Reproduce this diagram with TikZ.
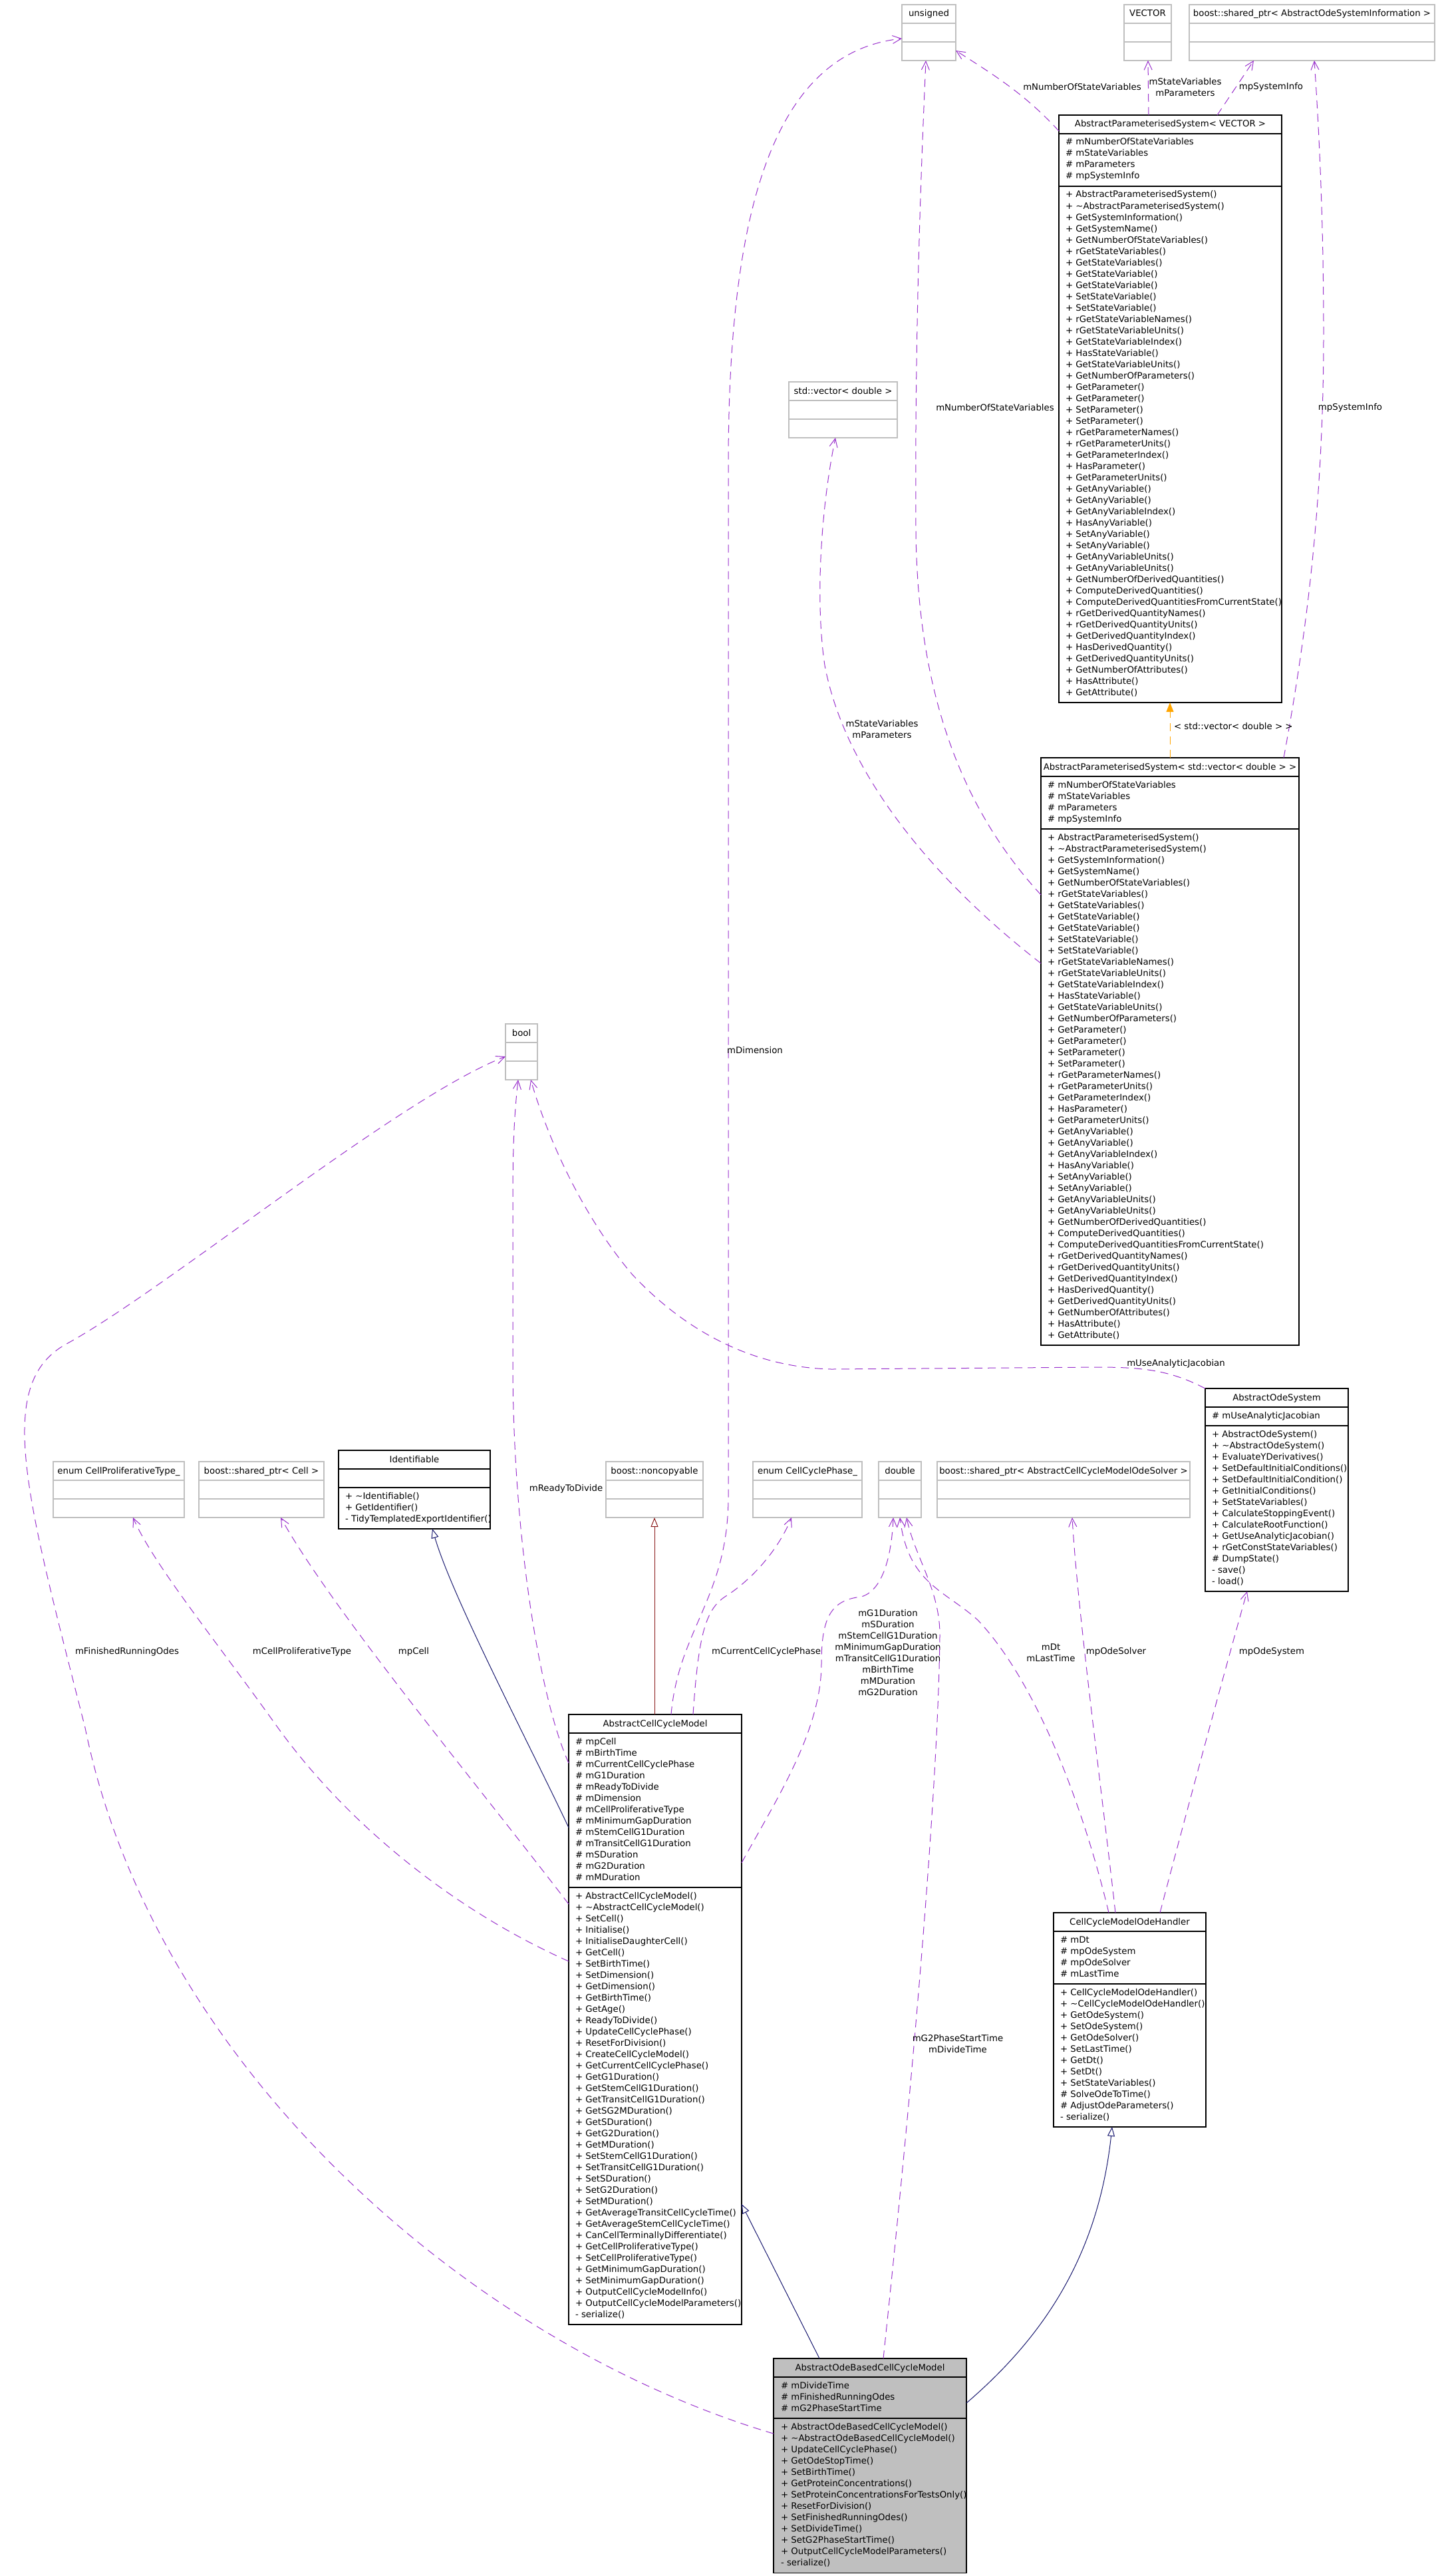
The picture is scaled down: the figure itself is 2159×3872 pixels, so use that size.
\documentclass[tikz,border=0pt]{standalone}
\usepackage{fontspec}
\setmainfont{DejaVu Sans}
\usetikzlibrary{arrows.meta}
\definecolor{edgepurple}{HTML}{9A32CD}
\definecolor{navyedge}{HTML}{191970}
\definecolor{redge}{HTML}{8B1A1A}
\definecolor{boxgray}{HTML}{BFBFBF}
\definecolor{tmplorange}{HTML}{FFA500}
\tikzset{
  every node/.style={font=\fontsize{13.3}{17}\selectfont, inner sep=0pt, outer sep=0pt},
  classbox/.style={draw=black, line width=1.1pt, rectangle},
  classboxsep/.style={draw=black, line width=1.1pt},
  graybox/.style={draw=boxgray, line width=1.1pt, rectangle},
  grayboxsep/.style={draw=boxgray, line width=1.1pt},
  focusbox/.style={draw=black, fill=boxgray, line width=1.1pt, rectangle},
  focusboxsep/.style={draw=black, line width=1.1pt},
  usage/.style={draw=edgepurple, line width=1pt, dash pattern=on 12pt off 8pt, -{Straight Barb[length=13pt,width=12pt]}},
  inherit/.style={draw=navyedge, line width=1pt, -{Triangle[length=14pt,width=11pt,fill=white]}},
  privinherit/.style={draw=redge, line width=1pt, -{Triangle[length=14pt,width=11pt,fill=white]}},
  tmpl/.style={draw=tmplorange, line width=1pt, dash pattern=on 12pt off 8pt, -{Triangle[length=14pt,width=11pt]}},
  elabel/.style={align=center, text=black},
}
\newcommand\umlbox[8]{%
  \pgfmathsetmacro\hA{(#5==0) ? 28 : 17*#5+11}%
  \pgfmathsetmacro\hM{(#6==0) ? 28 : 17*#6+11}%
  \pgfmathsetmacro\hT{28+\hA+\hM}%
  \node[#7, minimum width=#4pt, minimum height=\hT pt, anchor=north west] (#1) at (#2,#3) {};
  \draw[#7sep] (#2,#3+28) -- ++(#4,0);
  \draw[#7sep] (#2,#3+28+\hA) -- ++(#4,0);
  \node[anchor=base] (#1-title) at (#2+#4/2,#3+18) {#8};
}
\newcommand\umllines[4]{%
  \foreach \t [count=\i] in #4 {\node[anchor=base west] (#1-\i) at (#2,#3+17*\i) {\t};}
}
\newcommand\xApsAttr{\# mNumberOfStateVariables,\# mStateVariables,\# mParameters,\# mpSystemInfo}
\newcommand\xApsMeth{+ AbstractParameterisedSystem(),+ \textasciitilde{}AbstractParameterisedSystem(),+ GetSystemInformation(),+ GetSystemName(),+ GetNumberOfStateVariables(),+ rGetStateVariables(),+ GetStateVariables(),+ GetStateVariable(),+ GetStateVariable(),+ SetStateVariable(),+ SetStateVariable(),+ rGetStateVariableNames(),+ rGetStateVariableUnits(),+ GetStateVariableIndex(),+ HasStateVariable(),+ GetStateVariableUnits(),+ GetNumberOfParameters(),+ GetParameter(),+ GetParameter(),+ SetParameter(),+ SetParameter(),+ rGetParameterNames(),+ rGetParameterUnits(),+ GetParameterIndex(),+ HasParameter(),+ GetParameterUnits(),+ GetAnyVariable(),+ GetAnyVariable(),+ GetAnyVariableIndex(),+ HasAnyVariable(),+ SetAnyVariable(),+ SetAnyVariable(),+ GetAnyVariableUnits(),+ GetAnyVariableUnits(),+ GetNumberOfDerivedQuantities(),+ ComputeDerivedQuantities(),+ ComputeDerivedQuantitiesFromCurrentState(),+ rGetDerivedQuantityNames(),+ rGetDerivedQuantityUnits(),+ GetDerivedQuantityIndex(),+ HasDerivedQuantity(),+ GetDerivedQuantityUnits(),+ GetNumberOfAttributes(),+ HasAttribute(),+ GetAttribute()}
\newcommand\xAosAttr{\# mUseAnalyticJacobian}
\newcommand\xAosMeth{+ AbstractOdeSystem(),+ \textasciitilde{}AbstractOdeSystem(),+ EvaluateYDerivatives(),+ SetDefaultInitialConditions(),+ SetDefaultInitialCondition(),+ GetInitialConditions(),+ SetStateVariables(),+ CalculateStoppingEvent(),+ CalculateRootFunction(),+ GetUseAnalyticJacobian(),+ rGetConstStateVariables(),\# DumpState(),- save(),- load()}
\newcommand\xIdentMeth{+ \textasciitilde{}Identifiable(),+ GetIdentifier(),- TidyTemplatedExportIdentifier()}
\newcommand\xAccmAttr{\# mpCell,\# mBirthTime,\# mCurrentCellCyclePhase,\# mG1Duration,\# mReadyToDivide,\# mDimension,\# mCellProliferativeType,\# mMinimumGapDuration,\# mStemCellG1Duration,\# mTransitCellG1Duration,\# mSDuration,\# mG2Duration,\# mMDuration}
\newcommand\xAccmMeth{+ AbstractCellCycleModel(),+ \textasciitilde{}AbstractCellCycleModel(),+ SetCell(),+ Initialise(),+ InitialiseDaughterCell(),+ GetCell(),+ SetBirthTime(),+ SetDimension(),+ GetDimension(),+ GetBirthTime(),+ GetAge(),+ ReadyToDivide(),+ UpdateCellCyclePhase(),+ ResetForDivision(),+ CreateCellCycleModel(),+ GetCurrentCellCyclePhase(),+ GetG1Duration(),+ GetStemCellG1Duration(),+ GetTransitCellG1Duration(),+ GetSG2MDuration(),+ GetSDuration(),+ GetG2Duration(),+ GetMDuration(),+ SetStemCellG1Duration(),+ SetTransitCellG1Duration(),+ SetSDuration(),+ SetG2Duration(),+ SetMDuration(),+ GetAverageTransitCellCycleTime(),+ GetAverageStemCellCycleTime(),+ CanCellTerminallyDifferentiate(),+ GetCellProliferativeType(),+ SetCellProliferativeType(),+ GetMinimumGapDuration(),+ SetMinimumGapDuration(),+ OutputCellCycleModelInfo(),+ OutputCellCycleModelParameters(),- serialize()}
\newcommand\xHandAttr{\# mDt,\# mpOdeSystem,\# mpOdeSolver,\# mLastTime}
\newcommand\xHandMeth{+ CellCycleModelOdeHandler(),+ \textasciitilde{}CellCycleModelOdeHandler(),+ GetOdeSystem(),+ SetOdeSystem(),+ GetOdeSolver(),+ SetLastTime(),+ GetDt(),+ SetDt(),+ SetStateVariables(),\# SolveOdeToTime(),\# AdjustOdeParameters(),- serialize()}
\newcommand\xAodbAttr{\# mDivideTime,\# mFinishedRunningOdes,\# mG2PhaseStartTime}
\newcommand\xAodbMeth{+ AbstractOdeBasedCellCycleModel(),+ \textasciitilde{}AbstractOdeBasedCellCycleModel(),+ UpdateCellCyclePhase(),+ GetOdeStopTime(),+ SetBirthTime(),+ GetProteinConcentrations(),+ SetProteinConcentrationsForTestsOnly(),+ ResetForDivision(),+ SetFinishedRunningOdes(),+ SetDivideTime(),+ SetG2PhaseStartTime(),+ OutputCellCycleModelParameters(),- serialize()}
\begin{document}
\begin{tikzpicture}[x=1pt,y=-1pt]
\useasboundingbox (0,0) rectangle (2159,3872);
\fill[white] (0,0) rectangle (2159,3872);
% ---------- boxes ----------
\umlbox{uns}{1356}{7}{81}{0}{0}{graybox}{unsigned}
\umlbox{vec}{1690}{7}{71}{0}{0}{graybox}{VECTOR}
\umlbox{aodsi}{1788}{7}{369}{0}{0}{graybox}{boost::shared\_ptr< AbstractOdeSystemInformation >}
\umlbox{apsV}{1592}{173}{335}{4}{45}{classbox}{AbstractParameterisedSystem< VECTOR >}
\umllines{apsV-a}{1602}{201}{\xApsAttr}
\umllines{apsV-m}{1602}{280}{\xApsMeth}
\umlbox{vecd}{1186}{574}{163}{0}{0}{graybox}{std::vector< double >}
\umlbox{apsD}{1565}{1139}{388}{4}{45}{classbox}{AbstractParameterisedSystem< std::vector< double > >}
\umllines{apsD-a}{1575}{1167}{\xApsAttr}
\umllines{apsD-m}{1575}{1246}{\xApsMeth}
\umlbox{boolbox}{760}{1539}{48}{0}{0}{graybox}{bool}
\umlbox{aos}{1812}{2087}{215}{1}{14}{classbox}{AbstractOdeSystem}
\umllines{aos-a}{1822}{2115}{\xAosAttr}
\umllines{aos-m}{1822}{2143}{\xAosMeth}
\umlbox{cpt}{80}{2197}{197}{0}{0}{graybox}{enum CellProliferativeType\_}
\umlbox{spcell}{299}{2197}{188}{0}{0}{graybox}{boost::shared\_ptr< Cell >}
\umlbox{ident}{509}{2180}{228}{0}{3}{classbox}{Identifiable}
\umllines{ident-m}{519}{2236}{\xIdentMeth}
\umlbox{noncopy}{911}{2197}{146}{0}{0}{graybox}{boost::noncopyable}
\umlbox{ccp}{1132}{2197}{164}{0}{0}{graybox}{enum CellCyclePhase\_}
\umlbox{dbl}{1321}{2197}{64}{0}{0}{graybox}{double}
\umlbox{solver}{1409}{2197}{380}{0}{0}{graybox}{boost::shared\_ptr< AbstractCellCycleModelOdeSolver >}
\umlbox{accm}{855}{2577}{260}{13}{38}{classbox}{AbstractCellCycleModel}
\umllines{accm-a}{865}{2605}{\xAccmAttr}
\umllines{accm-m}{865}{2837}{\xAccmMeth}
\umlbox{handler}{1584}{2875}{229}{4}{12}{classbox}{CellCycleModelOdeHandler}
\umllines{handler-a}{1594}{2903}{\xHandAttr}
\umllines{handler-m}{1594}{2982}{\xHandMeth}
\umlbox{aodb}{1163}{3545}{290}{3}{13}{focusbox}{AbstractOdeBasedCellCycleModel}
\umllines{aodb-a}{1174}{3573}{\xAodbAttr}
\umllines{aodb-m}{1174}{3635}{\xAodbMeth}
% ---------- connectors ----------
\draw[usage] ([xshift=154pt]accm.north west) .. controls (1020,2450) and (1095,2400) .. (1095,2250) -- (1095,700) .. controls (1095,350) and (1150,80) .. ([yshift=-51pt]uns.north west);
\node[elabel] (lbl-dim) at (1135,1579) {mDimension};
\draw[usage] ([yshift=-206pt]apsD.north west) .. controls (1450,1220) and (1380,1050) .. (1377,800) .. controls (1375,500) and (1385,250) .. ([xshift=36pt]uns.south west);
\node[elabel] (lbl-nsv2) at (1496,613) {mNumberOfStateVariables};
\draw[usage] ([yshift=-24pt]apsV.north west) .. controls (1540,140) and (1490,110) .. ([yshift=-69pt]uns.north east);
\node[elabel] (lbl-nsv1) at (1627,131) {mNumberOfStateVariables};
\draw[usage] ([xshift=135pt]apsV.north west) -- ([xshift=36pt]vec.south west);
\node[elabel] (lbl-svp1) at (1782,131) {mStateVariables\\mParameters};
\draw[usage] ([xshift=238pt]apsV.north west) -- ([xshift=97pt]aodsi.south west);
\node[elabel] (lbl-si1) at (1911,131) {mpSystemInfo};
\draw[usage] ([xshift=365pt]apsD.north west) .. controls (1965,950) and (1990,750) .. (1990,500) .. controls (1990,300) and (1980,150) .. ([xshift=188pt]aodsi.south west);
\node[elabel] (lbl-si2) at (2030,613) {mpSystemInfo};
\draw[tmpl] ([xshift=194pt]apsD.north west) -- ([xshift=167pt]apsV.south west);
\node[elabel, anchor=west] (lbl-tmpl) at (1765,1092) {< std::vector< double > >};
\draw[usage] ([yshift=-309pt]apsD.north west) .. controls (1400,1320) and (1270,1160) .. (1240,1000) .. controls (1225,900) and (1235,760) .. ([xshift=70pt]vecd.south west);
\node[elabel] (lbl-svp2) at (1326,1096) {mStateVariables\\mParameters};
\draw[usage] (aos.north west) .. controls (1760,2060) and (1720,2055) .. (1650,2055) -- (1250,2058) .. controls (1120,2055) and (1020,1990) .. (950,1915) .. controls (870,1820) and (820,1700) .. ([xshift=38pt]boolbox.south west);
\node[elabel] (lbl-uaj) at (1768,2050) {mUseAnalyticJacobian};
\draw[usage] ([yshift=-73pt]accm.north west) .. controls (810,2550) and (771,2300) .. (771,2050) -- (771,1800) .. controls (771,1700) and (775,1660) .. ([xshift=19pt]boolbox.south west);
\node[elabel] (lbl-rtd) at (851,2238) {mReadyToDivide};
\draw[usage] ([yshift=-371pt]accm.north west) .. controls (680,2870) and (520,2740) .. (415,2593) .. controls (320,2460) and (230,2350) .. ([xshift=120pt]cpt.south west);
\node[elabel] (lbl-cpt) at (454,2483) {mCellProliferativeType};
\draw[usage] ([yshift=-285pt]accm.north west) .. controls (700,2660) and (500,2420) .. ([xshift=123pt]spcell.south west);
\node[elabel] (lbl-cell) at (622,2483) {mpCell};
\draw[inherit] ([yshift=-170pt]accm.north west) .. controls (790,2610) and (680,2400) .. ([xshift=141pt]ident.south west);
\draw[privinherit] ([xshift=129pt]accm.north west) -- ([xshift=73pt]noncopy.south west);
\draw[usage] ([xshift=187pt]accm.north west) .. controls (1050,2460) and (1060,2420) .. (1090,2400) .. controls (1130,2375) and (1170,2330) .. ([xshift=58pt]ccp.south west);
\node[elabel] (lbl-ccp) at (1152,2483) {mCurrentCellCyclePhase};
\draw[usage] ([yshift=-223pt]accm.north east) .. controls (1170,2700) and (1235,2600) .. (1235,2500) .. controls (1235,2430) and (1250,2405) .. (1295,2400) .. controls (1330,2390) and (1341,2330) .. ([xshift=22pt]dbl.south west);
\node[elabel] (lbl-dur) at (1335,2484) {mG1Duration\\mSDuration\\mStemCellG1Duration\\mMinimumGapDuration\\mTransitCellG1Duration\\mBirthTime\\mMDuration\\mG2Duration};
\draw[usage] ([xshift=165pt]aodb.north west) .. controls (1370,3150) and (1410,2700) .. (1413,2460) .. controls (1414,2390) and (1375,2340) .. ([xshift=42pt]dbl.south west);
\node[elabel] (lbl-g2) at (1440,3072) {mG2PhaseStartTime\\mDivideTime};
\draw[usage] ([xshift=83pt]handler.north west) .. controls (1630,2720) and (1560,2530) .. (1470,2435) .. controls (1420,2390) and (1365,2380) .. ([xshift=32pt]dbl.south west);
\node[elabel] (lbl-dt) at (1580,2484) {mDt\\mLastTime};
\draw[usage] ([xshift=93pt]handler.north west) .. controls (1655,2680) and (1620,2420) .. ([xshift=203pt]solver.south west);
\node[elabel] (lbl-solver) at (1678,2483) {mpOdeSolver};
\draw[usage] ([xshift=160pt]handler.north west) .. controls (1790,2700) and (1850,2480) .. ([xshift=63pt]aos.south west);
\node[elabel] (lbl-system) at (1912,2483) {mpOdeSystem};
\draw[inherit] ([yshift=-67pt]aodb.north east) .. controls (1560,3520) and (1650,3400) .. ([xshift=88pt]handler.south west);
\draw[inherit] ([xshift=69pt]aodb.north west) -- ([yshift=-736pt]accm.north east);
\draw[usage] ([yshift=-113pt]aodb.north west) .. controls (700,3520) and (230,3100) .. (128,2597) .. controls (40,2250) and (-10,2080) .. (100,2020) .. controls (250,1938) and (600,1650) .. ([yshift=-49pt]boolbox.north west);
\node[elabel] (lbl-fro) at (191,2483) {mFinishedRunningOdes};
\end{tikzpicture}
\end{document}
